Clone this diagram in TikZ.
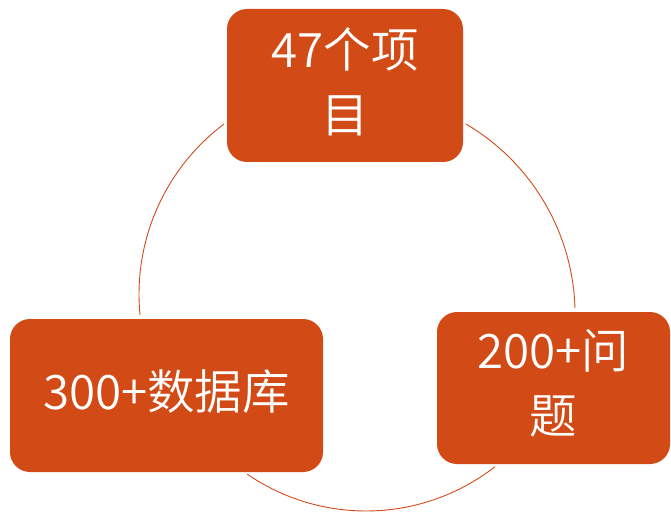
\documentclass[tikz,border=0pt]{standalone}
\usepackage{fontspec}
\newfontfamily\cjk{Noto Sans CJK SC DemiLight}
\definecolor{boxor}{HTML}{D24B17}
\begin{document}
\begin{tikzpicture}[x=1pt,y=-1pt,
  box/.style={fill=boxor, rounded corners=20pt, inner sep=0pt},
  label text/.style={text=white, font=\cjk\fontsize{47.5}{65}\selectfont, align=center, inner sep=0pt},
  arcline/.style={draw=boxor, line width=0.9pt}]
\useasboundingbox (0,0) rectangle (671,513);
% arcs of the cycle
\draw[arcline] plot[domain=174.4:233.05, samples=60] ({352.1+213.1*cos(\x)}, {294.3+213.1*sin(\x)});
\draw[arcline] plot[domain=-59.5:-1.8, samples=60] ({353.6+221.5*cos(\x)}, {314.9+221.5*sin(\x)});
\draw[arcline] plot[domain=52.1:124.5, samples=60] ({366+209.9*cos(\x)}, {301.1+209.9*sin(\x)});
% boxes
\node[box, minimum width=236pt, minimum height=153pt] (proj) at (345,85.5) {};
\node[box, minimum width=313pt, minimum height=153pt] (db) at (166.5,395.5) {};
\node[box, minimum width=233pt, minimum height=152pt] (q) at (553.5,388) {};
% texts
\node[label text] (projt) at ([yshift=4pt]proj.center) {47个项\\目};
\node[label text] (dbt) at ([yshift=4pt]db.center) {300+数据库};
\node[label text] (qt) at ([yshift=5pt]q.center) {200+问\\题};
\end{tikzpicture}
\end{document}
